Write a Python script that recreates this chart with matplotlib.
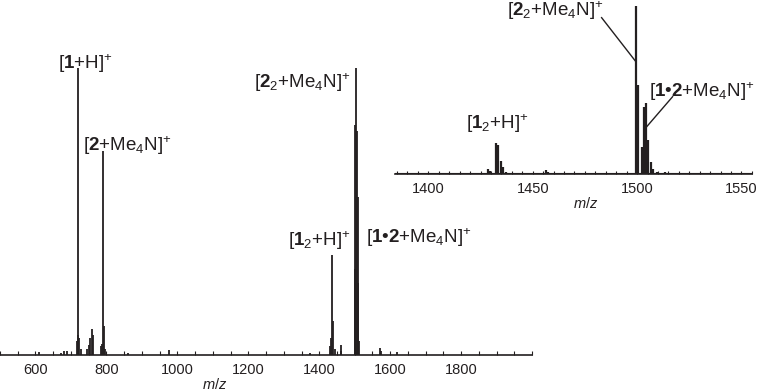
import numpy as np
import matplotlib as mpl
mpl.use('Agg')
import matplotlib.pyplot as plt
from matplotlib.ticker import MultipleLocator

plt.rcParams['font.family'] = ['Liberation Sans', 'DejaVu Sans']
plt.rcParams['mathtext.fontset'] = 'custom'
plt.rcParams['mathtext.rm'] = 'Liberation Sans'
plt.rcParams['mathtext.it'] = 'Liberation Sans:italic'
plt.rcParams['mathtext.bf'] = 'Liberation Sans:bold'

ink = '#231f20'

# full spectrum: m/z and relative intensity
mz_full = [610, 672, 680, 688, 716, 719, 721, 724, 727, 745, 750, 755, 758, 761,
           785, 788, 791, 794, 797, 860, 975, 1375,
           1431, 1434, 1437, 1440, 1443, 1460, 1462,
           1500, 1502, 1504, 1506, 1508, 1510, 1513, 1570, 1574, 1620]
int_full = [0.012, 0.006, 0.014, 0.014, 0.05, 0.07, 1.0, 0.06, 0.02, 0.02, 0.035, 0.06, 0.09, 0.07,
            0.03, 0.04, 0.71, 0.10, 0.02, 0.006, 0.016, 0.008,
            0.03, 0.06, 0.35, 0.12, 0.02, 0.035, 0.015,
            0.30, 0.80, 1.0, 0.78, 0.55, 0.25, 0.05, 0.025, 0.015, 0.012]

# zoomed region
mz_zoom = [1386, 1392, 1398, 1405, 1412, 1420, 1426, 1428.7, 1429.6, 1432.4, 1433.5, 1434.6, 1435.6, 1437,
           1441, 1447, 1452, 1456.5, 1457.5, 1462, 1468, 1475, 1482, 1490, 1495,
           1499.5, 1500.6, 1502.2, 1503.3, 1504.3, 1505.4, 1506.5, 1507.8, 1509.5,
           1513.4, 1518, 1525, 1533, 1540, 1547]
int_zoom = [0.004, 0.005, 0.004, 0.005, 0.004, 0.005, 0.006, 0.03, 0.02, 0.185, 0.175, 0.08, 0.04, 0.012,
            0.006, 0.005, 0.006, 0.025, 0.015, 0.006, 0.005, 0.005, 0.006, 0.005, 0.006,
            1.0, 0.53, 0.16, 0.40, 0.42, 0.20, 0.07, 0.03, 0.012,
            0.012, 0.005, 0.004, 0.005, 0.004, 0.005]

fig = plt.figure(figsize=(7.58, 3.92), dpi=100)

# main spectrum
ax = fig.add_axes([0.0, 0.0944, 0.702, 0.732])
ax.vlines(mz_full, 0, int_full, color=ink, lw=1.3)
ax.set_xlim(500, 2000)
ax.set_ylim(0, 1.0)
for s in ['left', 'right', 'top']:
    ax.spines[s].set_visible(False)
ax.spines['bottom'].set_color(ink)
ax.spines['bottom'].set_linewidth(1.2)
ax.set_yticks([])
ax.xaxis.set_minor_locator(MultipleLocator(50))
ax.set_xticks([600, 800, 1000, 1200, 1400, 1600, 1800])
ax.tick_params(axis='x', which='both', direction='in', length=3, width=0.8, color=ink,
               labelsize=10.5, labelcolor=ink, pad=6)
ax.set_facecolor('none')
ax.set_xlabel(r'$\it{m/z}$', fontsize=10.5, color=ink)
ax.xaxis.set_label_coords(0.404, -0.078)

fs = 13.5
ax.text(741, 1.017, r'[$\mathbf{1}$+H]$^{+}$', fontsize=fs, color=ink, ha='center', va='center')
ax.text(859, 0.73, r'[$\mathbf{2}$+Me$_{4}$N]$^{+}$', fontsize=fs, color=ink, ha='center', va='center')
ax.text(1487, 0.95, r'[$\mathbf{2}_{2}$+Me$_{4}$N]$^{+}$', fontsize=fs, color=ink, ha='right', va='center')
ax.text(1487, 0.40, r'[$\mathbf{1}_{2}$+H]$^{+}$', fontsize=fs, color=ink, ha='right', va='center')
ax.text(1533, 0.41, r'[$\mathbf{1}$•$\mathbf{2}$+Me$_{4}$N]$^{+}$', fontsize=fs, color=ink, ha='left', va='center')

# inset
ins = fig.add_axes([0.521, 0.556, 0.471, 0.429])
ins.vlines(mz_zoom, 0, int_zoom, color=ink, lw=1.6)
ins.axhline(0.004, color=ink, lw=0.8)
ins.set_xlim(1384, 1555)
ins.set_ylim(0, 1.0)
for s in ['left', 'right', 'top']:
    ins.spines[s].set_visible(False)
ins.spines['bottom'].set_color(ink)
ins.spines['bottom'].set_linewidth(1.2)
ins.set_yticks([])
ins.set_xticks([1400, 1450, 1500, 1550])
ins.xaxis.set_minor_locator(MultipleLocator(5))
ins.tick_params(axis='x', which='both', direction='in', length=2.5, width=0.8, color=ink,
                labelsize=10.5, labelcolor=ink, pad=6)
ins.set_facecolor('none')
ins.set_xlabel(r'$\it{m/z}$', fontsize=10.5, color=ink)
ins.xaxis.set_label_coords(0.535, -0.13)

ins.text(1433, 0.30, r'[$\mathbf{1}_{2}$+H]$^{+}$', fontsize=fs, color=ink, ha='center', va='center')
ins.text(1484, 0.97, r'[$\mathbf{2}_{2}$+Me$_{4}$N]$^{+}$', fontsize=fs, color=ink, ha='right', va='center')
ins.plot([1483, 1499.3], [0.93, 0.67], color=ink, lw=1.0)
ins.text(1505.5, 0.49, r'[$\mathbf{1}$•$\mathbf{2}$+Me$_{4}$N]$^{+}$', fontsize=fs, color=ink, ha='left', va='center')
ins.plot([1517, 1503.8], [0.46, 0.27], color=ink, lw=1.0)

fig.savefig('out.png', dpi=100)
